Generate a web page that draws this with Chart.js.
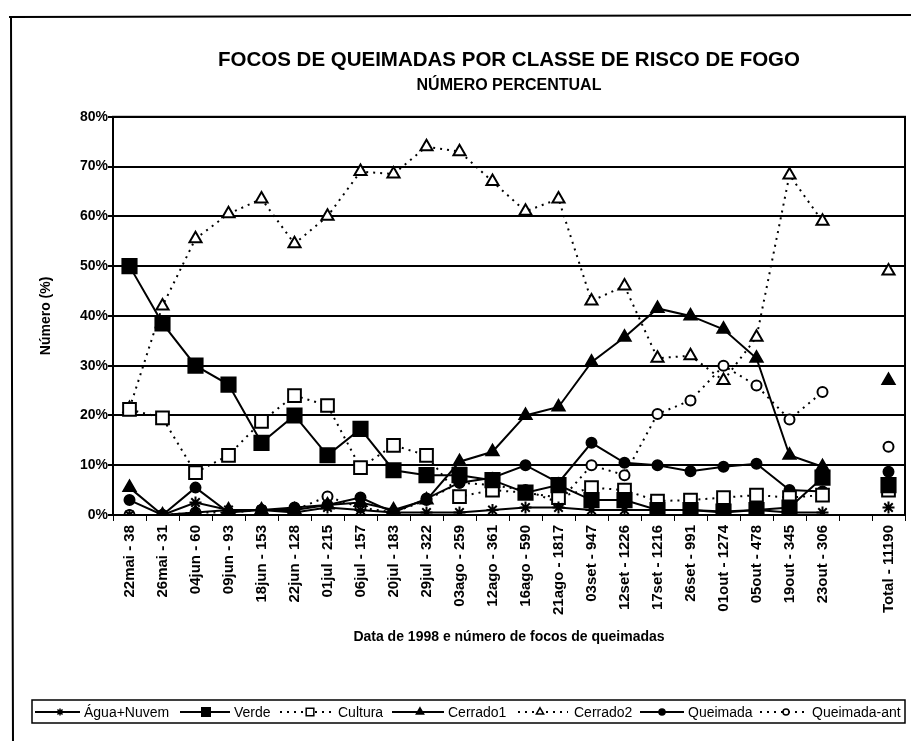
<!DOCTYPE html>
<html><head><meta charset="utf-8">
<script src="https://cdn.jsdelivr.net/npm/chart.js@4.4.1/dist/chart.umd.min.js"></script>
<style>html,body{margin:0;padding:0;background:#fff;}canvas{display:block;}</style>
</head><body>
<canvas id="c" width="911" height="741"></canvas>
<script>
const categories = ['22mai - 38','26mai - 31','04jun - 60','09jun - 93','18jun - 153','22jun - 128','01jul - 215','06jul - 157','20jul - 183','29jul - 322','03ago - 259','12ago - 361','16ago - 590','21ago - 1817','03set - 947','12set - 1226','17set - 1216','26set - 991','01out - 1274','05out - 478','19out - 345','23out - 306','','Total - 11190'];
const yTicks = [0,10,20,30,40,50,60,70,80];
const aguaNuvem   = [0, 0, 2.5, 1, 1, 0.5, 1.5, 1, 0.5, 0.5, 0.5, 1, 1.5, 1.5, 1, 1, 1, 1, 0.5, 1, 0.5, 0.5, null, 1.5];
const verde       = [50, 38.5, 30, 26.2, 14.5, 20, 12, 17.3, 9, 8, 8, 7, 4.5, 6, 3, 3, 1, 1, 0.7, 1, 1.5, 7.5, null, 6];
const cultura     = [21.2, 19.5, 8.5, 12, 18.8, 24, 22, 9.5, 14, 12, 3.7, 5, 4.5, 3.5, 5.5, 5, 2.8, 3, 3.5, 4, 3.5, 4, null, 5];
const cerrado1    = [5.5, 0, 0.5, 1, 1, 1, 2, 2.5, 1, 3, 10.7, 12.7, 20, 21.7, 30.7, 35.7, 41.5, 40, 37.3, 31.5, 12, 9.7, null, 27];
const cerrado2    = [21.4, 42, 55.5, 60.5, 63.5, 54.5, 60, 69, 68.5, 74, 73, 67, 61, 63.5, 43, 46, 31.5, 32, 27, 35.7, 68.3, 59, null, 49];
const queimada    = [3, 0, 5.5, 0.5, 1, 1.5, 2, 3.5, 0.5, 3.3, 6.5, 7.5, 10, 6.5, 14.5, 10.5, 10, 8.8, 9.7, 10.3, 5, 4.7, null, 8.7];
const queimadaAnt = [0, 0, 0.5, 0.5, 1, 1, 3.7, 1.5, 0.5, 3, 6.5, 6, 5, 2.5, 10, 8, 20.3, 23, 30, 26, 19.2, 24.7, null, 13.7];

const FONT = '"Liberation Sans", Arial, sans-serif';
Chart.defaults.font.family = FONT;
Chart.defaults.color = '#000';

function ds(label, data, style, radius, open, dotted) {
  return {
    label, data,
    borderColor: '#000', backgroundColor: open ? '#fff' : '#000',
    borderWidth: 2, borderDash: dotted ? [2, 5] : [],
    pointStyle: style, pointRadius: radius, pointBorderWidth: 2,
    pointBackgroundColor: open ? '#fff' : '#000', pointBorderColor: '#000',
    tension: 0, spanGaps: false, fill: false
  };
}
const datasets = [
  ds('Água+Nuvem', aguaNuvem, 'star', 6, false, false),
  ds('Verde', verde, 'rect', 10, false, false),
  ds('Cultura', cultura, 'rect', 9, true, true),
  ds('Cerrado1', cerrado1, 'triangle', 7, false, false),
  ds('Cerrado2', cerrado2, 'triangle', 7, true, true),
  ds('Queimada', queimada, 'circle', 5, false, false),
  ds('Queimada-ant', queimadaAnt, 'circle', 5, true, true)
];

// legend layout (line start, line end, marker x, text x)
const legendPos = [
  [35, 80, 60, 84], [180, 230, 206, 234], [280, 332, 310, 338], [392, 444, 420, 448],
  [518, 568, 540, 574], [640, 684, 662, 688], [760, 808, 786, 812]
];

const decor = {
  id: 'decor',
  afterDraw(chart) {
    const ctx = chart.ctx, a = chart.chartArea;
    ctx.save();
    ctx.strokeStyle = '#000';
    ctx.lineWidth = 2;
    ctx.strokeRect(a.left, a.top, a.right - a.left, a.bottom - a.top);
    ctx.beginPath();
    ctx.moveTo(9, 17); ctx.lineTo(911, 15);
    ctx.moveTo(11, 17); ctx.lineTo(13, 741);
    ctx.stroke();
    ctx.lineWidth = 1.5;
    ctx.strokeRect(32, 700, 873, 23);
    const y = 712;
    datasets.forEach((d, i) => {
      const p = legendPos[i];
      ctx.lineWidth = 2;
      ctx.setLineDash(d.borderDash);
      ctx.beginPath(); ctx.moveTo(p[0], y); ctx.lineTo(p[1], y); ctx.stroke();
      ctx.setLineDash([]);
      ctx.fillStyle = d.pointBackgroundColor;
      ctx.lineWidth = 1.5;
      Chart.helpers.drawPoint(ctx, {pointStyle: d.pointStyle, rotation: 0, radius: d.pointRadius * 0.6, borderWidth: 1.5}, p[2], y);
      ctx.fillStyle = '#000';
      ctx.font = '14px ' + FONT;
      ctx.textBaseline = 'middle';
      ctx.textAlign = 'left';
      ctx.fillText(d.label, p[3], y + 1);
    });
    ctx.restore();
  }
};

new Chart(document.getElementById('c'), {
  type: 'line',
  data: { labels: categories, datasets },
  plugins: [decor],
  options: {
    responsive: false, animation: false,
    layout: { autoPadding: false, padding: { left: 28, right: 6, top: 0, bottom: 91 } },
    plugins: {
      legend: { display: false },
      tooltip: { enabled: false },
      title: { display: true, fullSize: false, text: 'FOCOS DE QUEIMADAS POR CLASSE DE RISCO DE FOGO', font: { size: 20.5, weight: 'bold' }, color: '#000', padding: { top: 48, bottom: 0 } },
      subtitle: { display: true, fullSize: false, text: 'NÚMERO PERCENTUAL', font: { size: 16, weight: 'bold' }, color: '#000', padding: { top: 3, bottom: 22 } }
    },
    scales: {
      x: {
        type: 'category', offset: true,
        grid: { display: true, drawOnChartArea: false, drawTicks: true, tickLength: 6, color: '#000', lineWidth: 1, offset: true },
        border: { display: true, color: '#000', width: 2 },
        ticks: { autoSkip: false, minRotation: 90, maxRotation: 90, font: { size: 15, weight: 'bold' }, color: '#000', padding: 4 },
        title: { display: true, text: 'Data de 1998 e número de focos de queimadas', font: { size: 14, weight: 'bold' }, color: '#000', padding: { top: 0, bottom: 4 } },
        afterFit(s) { s.height = 135; s.paddingLeft = 0; s.paddingRight = 0; }
      },
      y: {
        min: 0, max: 80,
        afterBuildTicks(s) { s.ticks = yTicks.map(v => ({ value: v })); },
        ticks: { callback: v => v + '%', font: { size: 14, weight: 'bold' }, color: '#000', padding: 0 },
        grid: { color: '#000', lineWidth: 2, tickLength: 5, drawTicks: true },
        border: { color: '#000', width: 2 },
        title: { display: true, text: 'Número (%)', font: { size: 14, weight: 'bold' }, color: '#000', padding: { top: 10, bottom: 4 } },
        afterFit(s) { s.width = 85; }
      }
    }
  }
});
</script>
</body></html>
